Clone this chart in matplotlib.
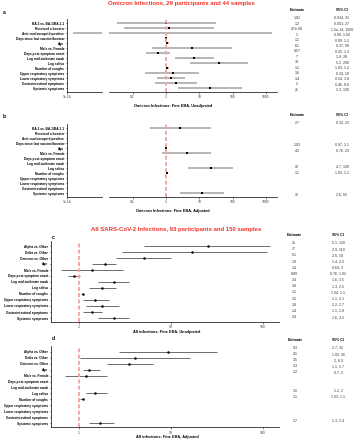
import numpy as np
import matplotlib
matplotlib.use("Agg")
import matplotlib.pyplot as plt

# ---------------- data ----------------
omi_labels = ["BA.2 vs. BA.1/BA.1.1", "Received a booster", "Anti-nucleocapsid positive",
              "Days since last vaccine/booster", "Age", "Male vs. Female",
              "Days post-symptom onset", "Log mid-turbinate swab", "Log saliva",
              "Number of coughs", "Upper respiratory symptoms", "Lower respiratory symptoms",
              "Gastrointestinal symptoms", "Systemic symptoms"]

a_est = [1.02, 1.2, 4.7e-06, 1, 1.1, 6.1, 0.57, 7, 39, 1.1, 1.6, 1.4, 2, 21]
a_lo = [0.034, 0.053, 1.5e-14, 0.99, 0.99, 0.37, 0.25, 1.8, 5.2, 1.03, 0.24, 0.54, 0.46, 2.3]
a_hi = [31, 27, 1500, 1.02, 1.2, 99, 1.3, 28, 290, 1.2, 10, 3.8, 8.8, 190]
a_est_txt = ["1.02", "1.2", "4.7e-06", "1", "1.1", "6.1", "0.57", "7", "39", "1.1", "1.6", "1.4", "2", "21"]
a_ci_txt = ["0.034, 31", "0.053, 27", "1.5e-14, 1500", "0.99, 1.02", "0.99, 1.2", "0.37, 99",
            "0.25, 1.3", "1.8, 28", "5.2, 290", "1.03, 1.2", "0.24, 10", "0.54, 3.8", "0.46, 8.8", "2.3, 190"]

nan = np.nan
b_est = [2.7, nan, nan, nan, 1.03, 4.2, nan, nan, 22, 1.1, nan, nan, nan, 12]
b_lo = [0.32, nan, nan, nan, 0.97, 0.76, nan, nan, 4.7, 1.03, nan, nan, nan, 2.6]
b_hi = [23, nan, nan, nan, 1.1, 23, nan, nan, 100, 1.1, nan, nan, nan, 55]
b_est_txt = ["2.7", "", "", "", "1.03", "4.2", "", "", "22", "1.1", "", "", "", "12"]
b_ci_txt = ["0.32, 23", "", "", "", "0.97, 1.1", "0.76, 23", "", "", "4.7, 100", "1.03, 1.1", "", "", "", "2.6, 55"]

all_labels = ["Alpha vs. Other", "Delta vs. Other", "Omicron vs. Other", "Age", "Male vs. Female",
              "Days post-symptom onset", "Log mid-turbinate swab", "Log saliva", "Number of coughs",
              "Upper respiratory symptoms", "Lower respiratory symptoms",
              "Gastrointestinal symptoms", "Systemic symptoms"]

c_est = [25, 17, 5.1, 1.9, 1.4, 0.89, 2.4, 1.8, 1.1, 1.5, 1.8, 1.4, 2.4]
c_lo = [5.1, 2.9, 2.5, 1.4, 0.64, 0.76, 1.6, 1.3, 1.04, 1.1, 1.2, 1.1, 1.6]
c_hi = [120, 110, 10, 2.5, 3, 1.02, 3.5, 2.5, 1.1, 2.1, 2.7, 1.8, 3.5]
c_est_txt = ["25", "17", "5.1", "1.9", "1.4", "0.89", "2.4", "1.8", "1.1", "1.5", "1.8", "1.4", "2.4"]
c_ci_txt = ["5.1, 120", "2.9, 110", "2.5, 10", "1.4, 2.5", "0.64, 3", "0.76, 1.02", "1.6, 3.5",
            "1.3, 2.5", "1.04, 1.1", "1.1, 2.1", "1.2, 2.7", "1.1, 1.8", "1.6, 3.5"]

d_est = [9.3, 4.1, 3.5, 1.3, 1.2, nan, nan, 1.5, 1.1, nan, nan, nan, 1.7]
d_lo = [2.7, 1.02, 2, 1.1, 0.7, nan, nan, 1.2, 1.03, nan, nan, nan, 1.3]
d_hi = [32, 16, 6.3, 1.7, 2, nan, nan, 2, 1.1, nan, nan, nan, 2.4]
d_est_txt = ["9.3", "4.1", "3.5", "1.3", "1.2", "", "", "1.5", "1.1", "", "", "", "1.7"]
d_ci_txt = ["2.7, 32", "1.02, 16", "2, 6.3", "1.1, 1.7", "0.7, 2", "", "", "1.2, 2", "1.03, 1.1", "", "", "", "1.3, 2.4"]

title_omi = "Omicron Infections, 29 participants and 44 samples"
title_all = "All SARS-CoV-2 Infections, 93 participants and 150 samples"
xlab_a = "Omicron Infections: Fine EBA, Unadjusted"
xlab_b = "Omicron Infections: Fine EBA, Adjusted"
xlab_c = "All infections: Fine EBA, Unadjusted"
xlab_d = "All infections: Fine EBA, Adjusted"

# ---------------- figure ----------------
plt.rcParams['font.family'] = ['Liberation Sans', 'DejaVu Sans']
W, H = 356, 440
fig = plt.figure(figsize=(W / 100, H / 100), dpi=100)

RED = '#f5312a'
PINK = '#f6a5a5'
LBL_FS = 2.35
TICK_FS = 2.4
XLAB_FS = 2.8
TITLE_FS = 4.3
TAB_FS = 2.6


def ax_px(x0, y0, x1, y1):
    return fig.add_axes([x0 / W, 1 - y1 / H, (x1 - x0) / W, (y1 - y0) / H])


def px2log(px, x_one, dec):
    return 10 ** ((px - x_one) / dec)


def style_ax(ax, left=True):
    ax.set_xscale('log')
    for s in ['top', 'right']:
        ax.spines[s].set_visible(False)
    ax.spines['left'].set_visible(left)
    ax.spines['bottom'].set_linewidth(0.5)
    ax.spines['left'].set_linewidth(0.5)
    ax.tick_params(axis='x', length=1.2, width=0.4, labelsize=TICK_FS, pad=1.2, colors='#333333')
    ax.tick_params(axis='x', which='minor', length=0)
    ax.tick_params(axis='y', length=1.0, width=0.4, labelsize=LBL_FS, pad=1.0)
    ax.patch.set_alpha(0)


def set_rows(ax, n, y_top, y_bot, r0, sp):
    ax.set_ylim((y_bot - r0) / sp, (y_top - r0) / sp)


def draw_gray(ax, est, lo, hi):
    for i in range(len(est)):
        if np.isnan(lo[i]):
            continue
        ax.plot([lo[i], hi[i]], [i, i], color='#b5b5b5', lw=1.4, solid_capstyle='butt', zorder=2)
        ax.plot([est[i]], [i], marker='s', ms=1.6, color='black', mew=0, zorder=3)


def draw_dark(ax, est, lo, hi):
    for i in range(len(est)):
        if np.isnan(lo[i]):
            continue
        ax.errorbar([est[i]], [i], xerr=[[est[i] - lo[i]], [hi[i] - est[i]]], fmt='o', ms=1.8,
                    color='black', ecolor='#555555', elinewidth=0.6, capsize=0.9, capthick=0.5,
                    mew=0, zorder=2)


def table(x_est, x_ci, y_head, y_rows, est_txt, ci_txt):
    fig.text(x_est / W, 1 - y_head / H, "Estimate", ha='center', va='center', fontsize=TAB_FS,
             fontweight='bold')
    fig.text(x_ci / W, 1 - y_head / H, "95% CI", ha='center', va='center', fontsize=TAB_FS,
             fontweight='bold')
    for yy, e, c in zip(y_rows, est_txt, ci_txt):
        if e:
            fig.text(x_est / W, 1 - yy / H, e, ha='center', va='center', fontsize=TAB_FS, color='#333333')
            fig.text(x_ci / W, 1 - yy / H, c, ha='center', va='center', fontsize=TAB_FS, color='#333333')


# ------------- panels a & b (broken axis) -------------
X1, DEC = 166, 33.3


def omicron_panel(yoff, est, lo, hi, xlabel, label):
    y_top, y_bot, r0, sp = 19 + yoff, 92 + yoff, 23.3 + yoff, 5.0
    axL = ax_px(67, y_top, 102, y_bot)
    axR = ax_px(109, y_top, 277, y_bot)
    for ax, left in [(axL, True), (axR, False)]:
        style_ax(ax, left)
        set_rows(ax, 14, y_top, y_bot, r0, sp)
        draw_gray(ax, est, lo, hi)
    axL.set_xlim(1e-14, 10 ** (-14 + 35 / DEC))
    axR.set_xlim(px2log(109, X1, DEC), px2log(277, X1, DEC))
    axL.set_xticks([1e-14])
    axL.set_xticklabels(["1e-14"])
    axR.set_xticks([0.1, 1, 10, 100, 1000])
    axR.set_xticklabels(["0.1", "1", "10", "100", "1000"])
    axL.set_yticks(range(14))
    axL.set_yticklabels(omi_labels, fontweight='bold')
    axR.set_yticks([])
    axR.axvline(1, color=PINK, lw=1.4, ls=(0, (2, 1.2)), zorder=4)
    fig.text(173 / W, 1 - (105.5 + yoff) / H, xlabel, ha='center', va='center', fontsize=XLAB_FS,
             fontweight='bold')
    fig.text(3 / W, 1 - (12 + yoff) / H, label, ha='left', va='center', fontsize=3.6, fontweight='bold')


omicron_panel(0, a_est, a_lo, a_hi, xlab_a, "a")
omicron_panel(105, b_est, b_lo, b_hi, xlab_b, "b")
fig.text(181 / W, 1 - 4 / H, title_omi, ha='center', va='center', fontsize=TITLE_FS,
         fontweight='bold', color=RED)
table(297, 342, 10, [18 + 5.54 * i for i in range(14)], a_est_txt, a_ci_txt)
table(297, 342, 115, [123 + 5.5 * i for i in range(14)], b_est_txt, b_ci_txt)

# ------------- panels c & d -------------
X1c, DECc = 79, 92


def all_panel(y_top, y_bot, r0, sp, est, lo, hi, xlabel, label, xlab_y, lab_y):
    ax = ax_px(51, y_top, 279, y_bot)
    style_ax(ax, True)
    set_rows(ax, 13, y_top, y_bot, r0, sp)
    draw_dark(ax, est, lo, hi)
    ax.set_xlim(px2log(51, X1c, DECc), px2log(279, X1c, DECc))
    ax.set_xticks([1, 10, 100])
    ax.set_xticklabels(["1", "10", "100"])
    ax.set_yticks(range(13))
    ax.set_yticklabels(all_labels, fontweight='bold')
    ax.axvline(1, color=PINK, lw=1.4, ls=(0, (2, 1.2)), zorder=4)
    fig.text(167 / W, 1 - xlab_y / H, xlabel, ha='center', va='center', fontsize=XLAB_FS,
             fontweight='bold')
    fig.text(52 / W, 1 - lab_y / H, label, ha='left', va='center', fontsize=3.6, fontweight='bold')


fig.text(176.5 / W, 1 - 229.5 / H, title_all, ha='center', va='center', fontsize=TITLE_FS,
         fontweight='bold', color=RED)
all_panel(241, 322, 246, 6.0, c_est, c_lo, c_hi, xlab_c, "c", 331.5, 237)
all_panel(346, 427.3, 351.7, 5.97, d_est, d_lo, d_hi, xlab_d, "d", 437, 338)
table(294, 338, 235, [243 + 6.17 * i for i in range(13)], c_est_txt, c_ci_txt)
table(295, 338, 340, [348 + 6.08 * i for i in range(13)], d_est_txt, d_ci_txt)

fig.savefig("out.png", dpi=100, facecolor='white')
